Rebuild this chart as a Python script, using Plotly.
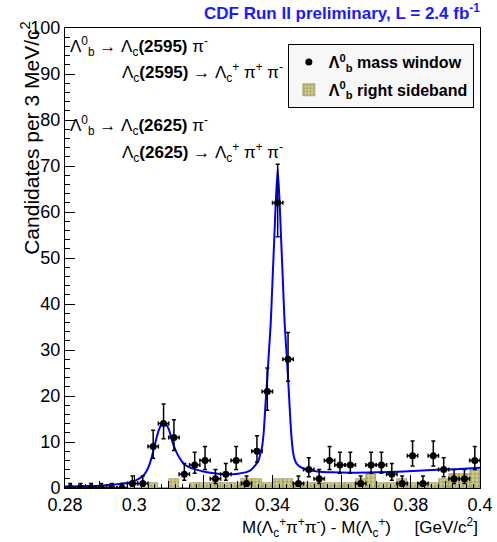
import numpy as np
import plotly.graph_objects as go

# ---------------- data ----------------
bin_width = 0.003
bin_centers = [round(0.2815 + 0.003 * i, 4) for i in range(40)]

# Lambda_b mass window counts (per 3 MeV bin)
signal_counts = [0, 0, 0, 0, 0, 0, 1, 1, 9, 14,
                 11, 3, 5, 6, 2, 3, 6, 1, 8, 21,
                 62, 28, 1, 4, 2, 6, 5, 5, 1, 5,
                 5, 3, 1, 7, 1, 7, 4, 2, 2, 6]

# Lambda_b right sideband counts
sideband_counts = [0, 0, 0, 0, 0, 0, 0, 0, 1, 0,
                   2, 0, 1, 1, 1, 1, 1, 2, 2, 1,
                   2, 2, 1, 1, 1, 1, 1, 1, 2, 3,
                   1, 1, 2, 1, 1, 1, 2, 3, 3, 4]

# fit curve
fit_x = [0.280, 0.285, 0.290, 0.295, 0.298, 0.300, 0.302, 0.303, 0.304, 0.305,
         0.306, 0.307, 0.308, 0.3085, 0.309, 0.310, 0.311, 0.312, 0.313, 0.314,
         0.315, 0.316, 0.318, 0.320, 0.322, 0.326, 0.330, 0.333, 0.334, 0.335,
         0.336, 0.3365, 0.337, 0.3375, 0.338, 0.3385, 0.339, 0.3395, 0.340, 0.3405,
         0.341, 0.3415, 0.342, 0.3425, 0.343, 0.3435, 0.344, 0.3445, 0.345, 0.3455,
         0.346, 0.3465, 0.347, 0.348, 0.350, 0.353, 0.357, 0.363, 0.370, 0.378,
         0.386, 0.393, 0.400]
fit_y = [0.3, 0.4, 0.5, 0.8, 1.1, 1.5, 2.3, 3.0, 4.3, 6.5,
         9.5, 12.3, 14.0, 14.3, 14.1, 12.8, 10.2, 8.2, 6.7, 5.6,
         4.9, 4.5, 4.0, 3.6, 3.3, 3.0, 3.1, 3.6, 4.1, 4.9,
         6.0, 7.5, 9.0, 12.5, 18.5, 24.0, 30.0, 36.0, 45.0, 54.0,
         63.0, 69.4, 63.0, 54.0, 45.0, 36.0, 30.0, 24.0, 17.0, 11.0,
         7.5, 6.0, 5.3, 4.6, 4.0, 3.6, 3.4, 3.3, 3.4, 3.6,
         3.9, 4.1, 4.4]

x_tick_vals = [0.28, 0.30, 0.32, 0.34, 0.36, 0.38, 0.40]
x_tick_text = ["0.28", "0.3", "0.32", "0.34", "0.36", "0.38", "0.4"]
y_tick_vals = [0, 10, 20, 30, 40, 50, 60, 70, 80, 90, 100]

# Poisson-style asymmetric errors from the counts
n = np.array(signal_counts, dtype=float)
err_hi = np.sqrt(n + 0.25) + 0.5
err_lo = np.sqrt(n + 0.25) - 0.5
err_lo[n == 0] = 0.0

FONT = "Liberation Sans, Arial, Helvetica, sans-serif"

fig = go.Figure()

fig.add_trace(go.Bar(
    x=bin_centers, y=sideband_counts, width=bin_width,
    name="Λ<sup>0</sup><sub>b</sub> right sideband",
    marker=dict(color="#c2bd78",
                line=dict(color="#8c874c", width=0.6),
                pattern=dict(shape=".", fgcolor="#858044", bgcolor="#cfcb8a",
                             size=4, solidity=0.4)),
    legendrank=2, legendgroup="b", hoverinfo="skip",
))

fig.add_trace(go.Scatter(
    x=fit_x, y=fit_y, mode="lines",
    line=dict(color="#0000ff", width=2, shape="spline", smoothing=0.5),
    showlegend=False, hoverinfo="skip",
))

fig.add_trace(go.Scatter(
    x=bin_centers, y=signal_counts, mode="markers",
    name="Λ<sup>0</sup><sub>b</sub> mass window",
    marker=dict(color="black", size=7),
    error_y=dict(type="data", symmetric=False, array=err_hi, arrayminus=err_lo,
                 color="black", thickness=1.5, width=2),
    error_x=dict(type="constant", value=bin_width / 2, color="black",
                 thickness=1.5, width=2),
    legendrank=1, legendgroup="a", hoverinfo="skip",
))

# helper trace for secondary (0.01) x ticks
fig.add_trace(go.Scatter(x=[0.28, 0.4], y=[None, None], xaxis="x2",
                         showlegend=False, hoverinfo="skip"))

fig.update_layout(
    width=497, height=542,
    margin=dict(l=65, r=17, t=28, b=54),
    paper_bgcolor="white", plot_bgcolor="white",
    bargap=0,
    font=dict(family=FONT, size=17, color="black"),
    xaxis=dict(range=[0.28, 0.4], tickvals=x_tick_vals, ticktext=x_tick_text,
               ticks="inside", ticklen=13, tickwidth=1, tickcolor="black",
               minor=dict(dtick=0.002, tick0=0.28, ticks="inside", ticklen=4,
                          tickcolor="black", showgrid=False),
               showline=True, linecolor="black", linewidth=1, mirror=True,
               showgrid=False, zeroline=False, automargin=False,
               ticklabelstandoff=0,
               tickfont=dict(family=FONT, size=18)),
    xaxis2=dict(range=[0.28, 0.4], overlaying="x", anchor="y", side="bottom",
                dtick=0.01, tick0=0.28, ticks="inside", ticklen=7,
                tickcolor="black", showticklabels=False, showgrid=False,
                zeroline=False, showline=False, automargin=False),
    yaxis=dict(range=[0, 100], tickvals=y_tick_vals,
               ticks="inside", ticklen=10, tickwidth=1, tickcolor="black",
               minor=dict(dtick=2, tick0=0, ticks="inside", ticklen=5,
                          tickcolor="black", showgrid=False),
               showline=True, linecolor="black", linewidth=1, mirror=True,
               showgrid=False, zeroline=False, automargin=False,
               tickfont=dict(family=FONT, size=18)),
    legend=dict(x=0.537, y=0.965, xanchor="left", yanchor="top",
                bgcolor="#f7f7f7", bordercolor="black", borderwidth=1,
                font=dict(family=FONT, size=16, color="black", weight="bold"),
                traceorder="grouped", itemwidth=30, tracegroupgap=4),
    showlegend=True,
)

ann = []
ann.append(dict(text="<b>CDF Run II preliminary, L = 2.4 fb<sup>-1</sup></b>",
                xref="paper", yref="paper", x=1.005, y=1.035,
                xanchor="right", yanchor="middle", showarrow=False,
                font=dict(family=FONT, size=17, color="#1a1aff")))
ann.append(dict(text="Candidates per 3 MeV/c<sup>2</sup>",
                xref="paper", yref="paper", x=-0.084, y=1.017,
                xanchor="center", yanchor="top", textangle=-90, showarrow=False,
                font=dict(family=FONT, size=21)))
ann.append(dict(text="M(Λ<sub>c</sub><sup>+</sup>π<sup>+</sup>π<sup>-</sup>) - M(Λ<sub>c</sub><sup>+</sup>)\u00a0\u00a0\u00a0\u00a0\u00a0[GeV/c<sup>2</sup>]",
                xref="paper", yref="paper", x=1.0, y=-0.085,
                xanchor="right", yanchor="middle", showarrow=False,
                font=dict(family=FONT, size=17)))

decay_lines = [
    ("Λ<sup>0</sup><sub>b</sub> → Λ<sub>c</sub><b>(2595)</b> π<sup>-</sup>", 0.0072, 0.9587),
    ("Λ<sub>c</sub><b>(2595)</b> → Λ<sub>c</sub><sup>+</sup> π<sup>+</sup> π<sup>-</sup>", 0.1325, 0.9043),
    ("Λ<sup>0</sup><sub>b</sub> → Λ<sub>c</sub><b>(2625)</b> π<sup>-</sup>", 0.0072, 0.789),
    ("Λ<sub>c</sub><b>(2625)</b> → Λ<sub>c</sub><sup>+</sup> π<sup>+</sup> π<sup>-</sup>", 0.1325, 0.730),
]
for txt, xx, yy in decay_lines:
    ann.append(dict(text=txt, xref="paper", yref="paper", x=xx, y=yy,
                    xanchor="left", yanchor="middle", showarrow=False,
                    font=dict(family=FONT, size=17)))

fig.update_layout(annotations=ann)

fig.write_html("out.html",
               config={"displayModeBar": False},
               post_script="document.body.style.margin='0';document.body.style.overflow='hidden';")
